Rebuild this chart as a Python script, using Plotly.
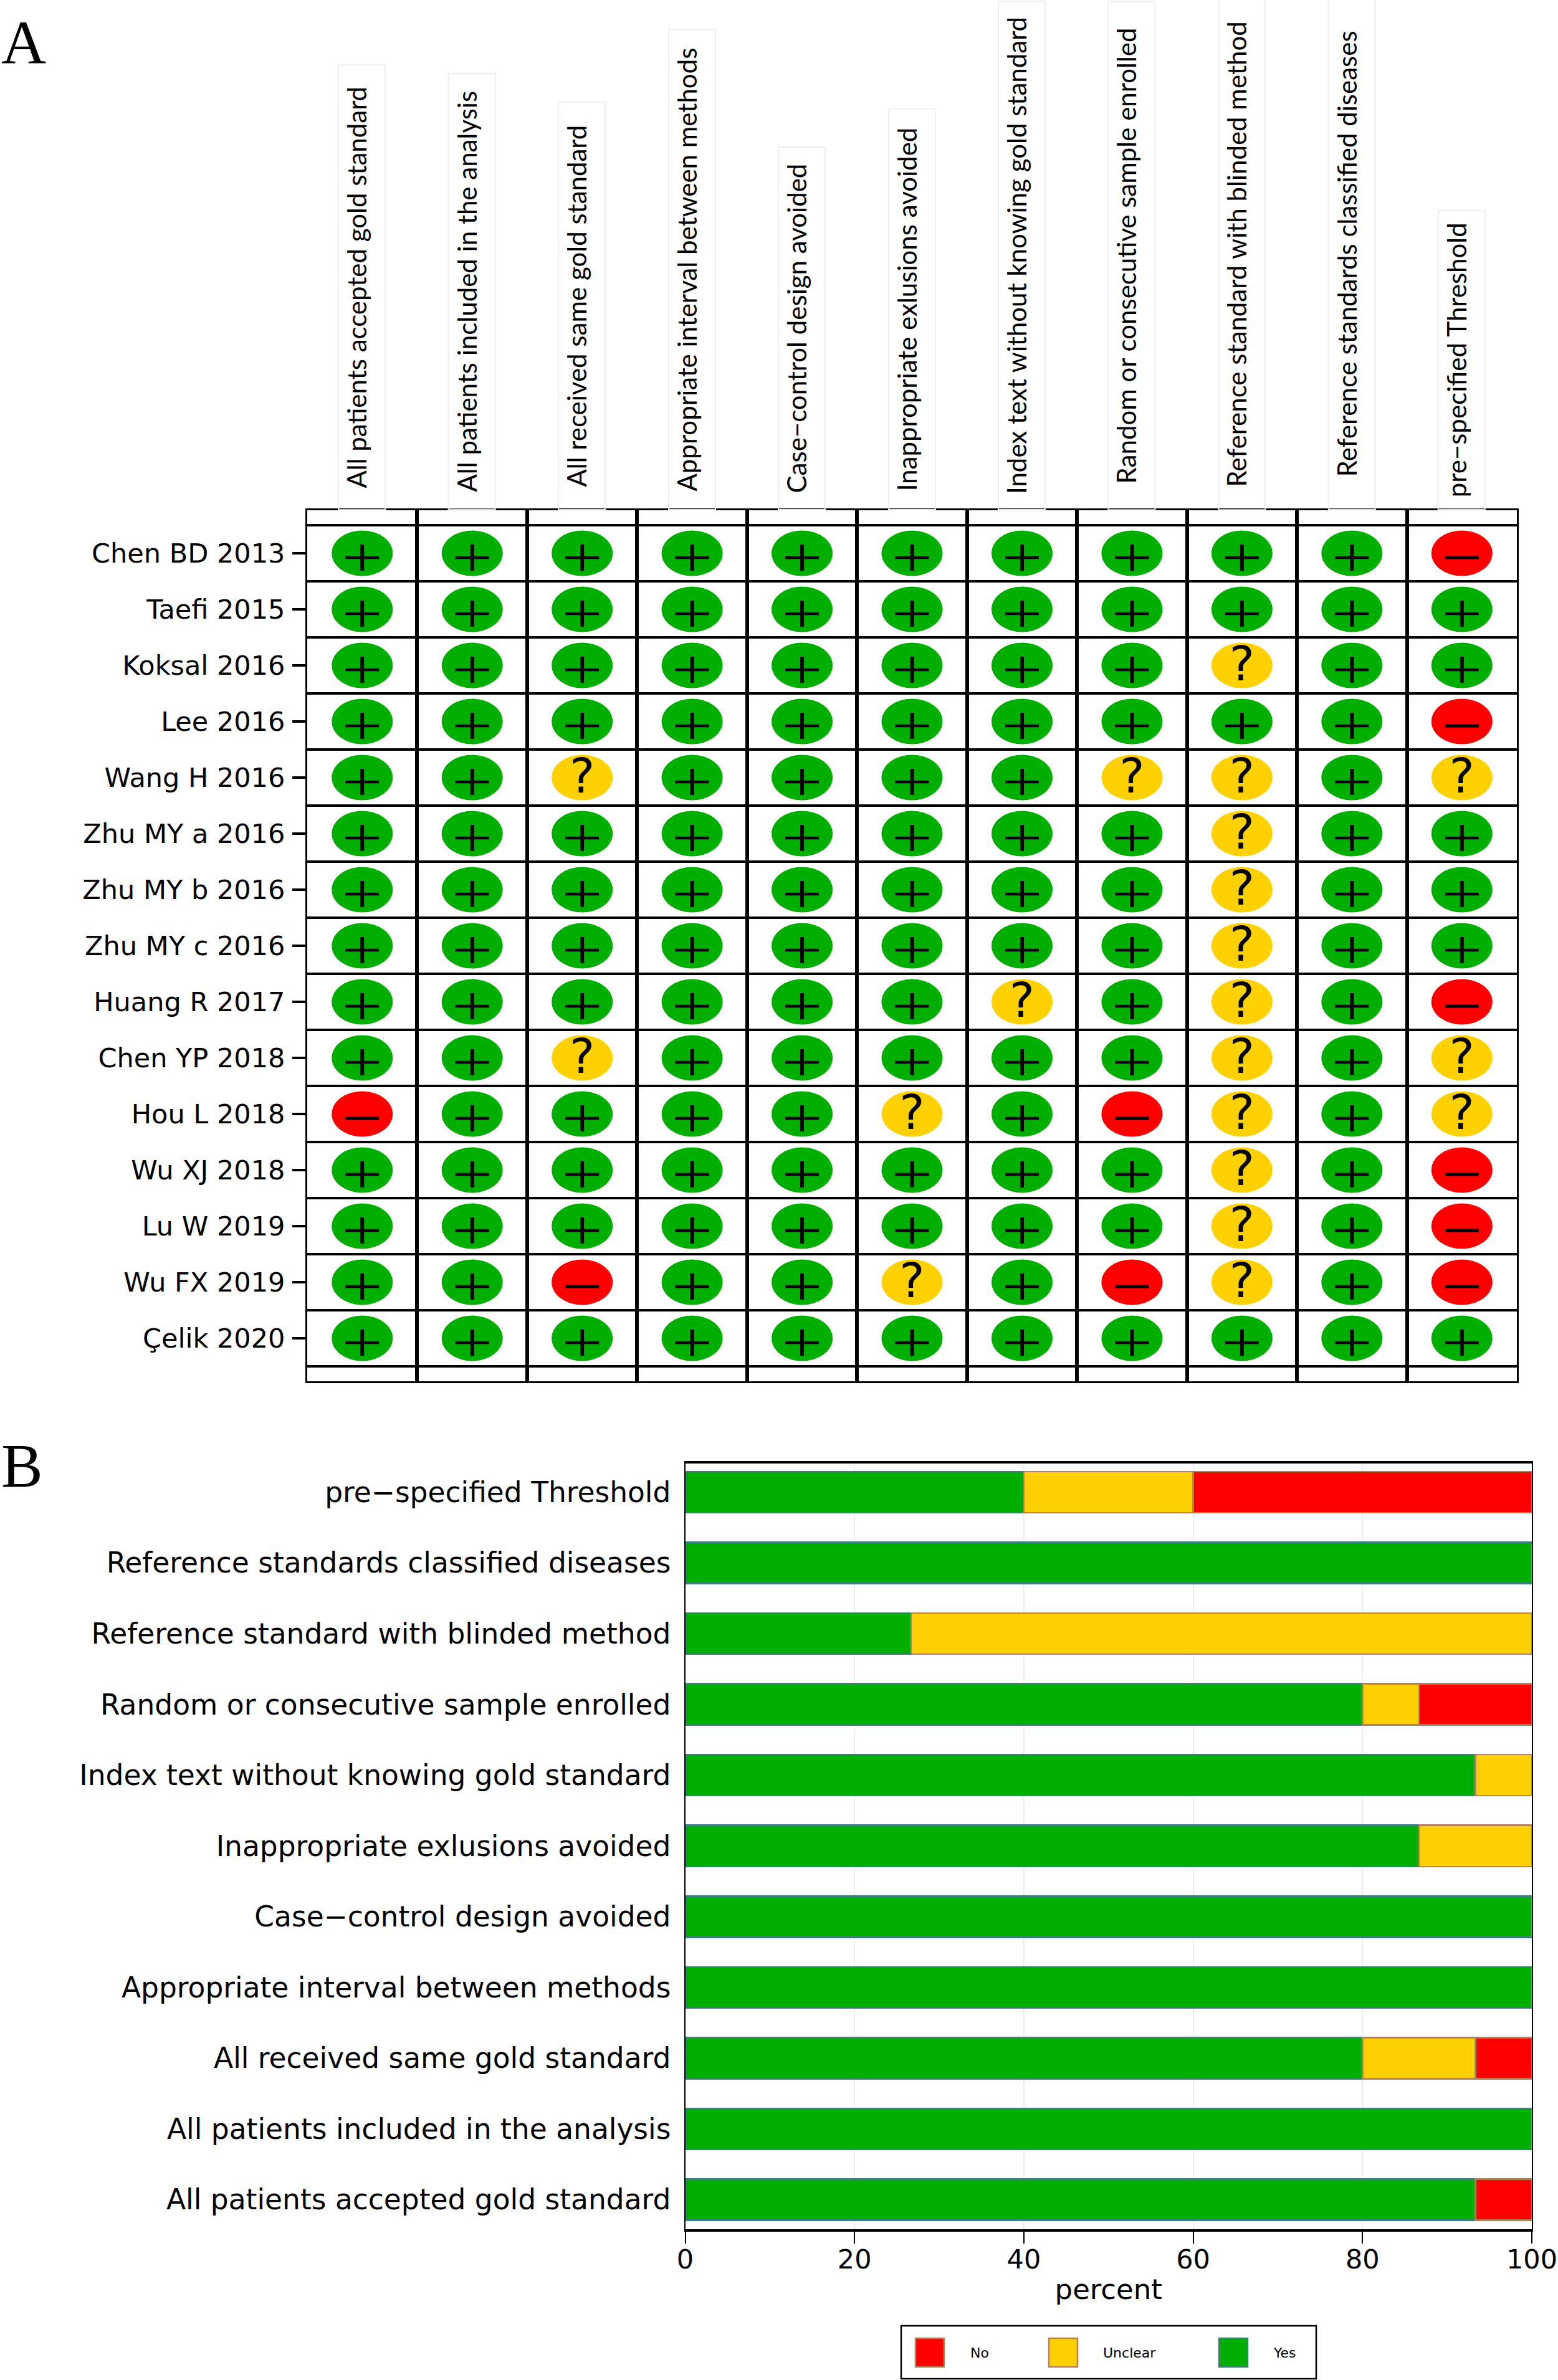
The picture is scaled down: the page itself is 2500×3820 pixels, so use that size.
import plotly.graph_objects as go

W, H = 2500, 3820

# ---------- data ----------
studies = ["Chen BD 2013", "Taefi 2015", "Koksal 2016", "Lee 2016", "Wang H 2016",
           "Zhu MY a 2016", "Zhu MY b 2016", "Zhu MY c 2016", "Huang R 2017", "Chen YP 2018",
           "Hou L 2018", "Wu XJ 2018", "Lu W 2019", "Wu FX 2019", "Çelik 2020"]
domains = ["All patients accepted gold standard", "All patients included in the analysis",
           "All received same gold standard", "Appropriate interval between methods",
           "Case\u2212control design avoided", "Inappropriate exlusions avoided",
           "Index text without knowing gold standard", "Random or consecutive sample enrolled",
           "Reference standard with blinded method", "Reference standards classified diseases",
           "pre\u2212specified Threshold"]
# one string per study, one letter per domain: Y yes, U unclear, N no
judgements = ["YYYYYYYYYYN", "YYYYYYYYYYY", "YYYYYYYYUYY", "YYYYYYYYYYN", "YYUYYYYUUYU",
              "YYYYYYYYUYY", "YYYYYYYYUYY", "YYYYYYYYUYY", "YYYYYYUYUYN", "YYUYYYYYUYU",
              "NYYYYUYNUYU", "YYYYYYYYUYN", "YYYYYYYYUYN", "YYNYYUYNUYN", "YYYYYYYYYYY"]
yes_pct = [93.33, 100, 80, 100, 100, 86.67, 93.33, 80, 26.67, 100, 40]
unclear_pct = [0, 0, 13.33, 0, 0, 13.33, 6.67, 6.67, 73.33, 0, 20]
no_pct = [6.67, 0, 6.67, 0, 0, 0, 0, 13.33, 0, 0, 40]
pct_ticks = [0, 20, 40, 60, 80, 100]
legend_names = ["No", "Unclear", "Yes"]
header_box_len = [712, 698, 652, 769, 580, 641, 814, 814, 819, 819, 478]

# ---------- style ----------
GREEN, YELLOW, RED = "#00AE00", "#FFD100", "#FF0000"
FILL = {"Y": GREEN, "U": YELLOW, "N": RED}
EDGE = {"Yes": "#3F7F80", "Unclear": "#B8805F", "No": "#A98455"}
SWATCH = {"Yes": GREEN, "Unclear": YELLOW, "No": RED}
WIDE = "DejaVu Sans"
NARROW = "Lato"

A_L, A_R, A_T, A_B = 493, 2434, 819, 2217
B_L, B_R, B_T, B_B = 1099.5, 2458, 2349, 3578
ROW_H = 90
COL_W = (A_R - A_L) / len(domains)
PAD_ROW = 24 / ROW_H
B_PITCH = 113.5


def px(x):
    return x / W


def py(y):
    return 1 - y / H


fig = go.Figure()
shapes = []

# ---------- panel A ----------
plus_hx, plus_hy, plus_vx, plus_vy, minus_x, minus_y, q_x, q_y = [], [], [], [], [], [], [], []
for r, row in enumerate(judgements):
    for c, j in enumerate(row):
        shapes.append(dict(type="circle", xref="x", yref="y", layer="below",
                           x0=c - 49 / COL_W, x1=c + 49 / COL_W,
                           y0=r - 36.5 / ROW_H, y1=r + 36.5 / ROW_H,
                           fillcolor=FILL[j], line_width=0))
        bar_y = r + 7 / ROW_H
        if j == "Y":
            plus_hx += [c - 27 / COL_W, c + 27 / COL_W, None]
            plus_hy += [bar_y, bar_y, None]
            plus_vx += [c, c, None]
            plus_vy += [bar_y - 21 / ROW_H, bar_y + 21 / ROW_H, None]
        elif j == "N":
            minus_x += [c - 27 / COL_W, c + 27 / COL_W, None]
            minus_y += [bar_y, bar_y, None]
        else:
            q_x.append(c)
            q_y.append(r + 5 / ROW_H)

for xs, ys, width, name in [(plus_hx, plus_hy, 4.5, "Yes bar"), (plus_vx, plus_vy, 6, "Yes stem"),
                            (minus_x, minus_y, 5, "No")]:
    fig.add_trace(go.Scatter(x=xs, y=ys, mode="lines", name=name, showlegend=False, hoverinfo="skip",
                             line=dict(color="black", width=width), xaxis="x", yaxis="y"))
fig.add_trace(go.Scatter(x=q_x, y=q_y, mode="text", text=["?"] * len(q_x), name="Unclear",
                         textposition="middle center", showlegend=False, hoverinfo="skip",
                         textfont=dict(family=WIDE, size=76, color="black"), xaxis="x", yaxis="y"))

# ---------- panel B ----------
b_y = list(range(len(domains)))
for name, vals, col in [("Yes", yes_pct, GREEN), ("Unclear", unclear_pct, YELLOW), ("No", no_pct, RED)]:
    fig.add_trace(go.Bar(x=vals, y=b_y, orientation="h", name=name, width=66 / B_PITCH,
                         marker=dict(color=col, line=dict(color=EDGE[name], width=2.5)),
                         showlegend=False, xaxis="x2", yaxis="y2"))

annotations = []
for c, (label, blen) in enumerate(zip(domains, header_box_len)):
    annotations.append(dict(text=label, x=c, xref="x", y=py(A_T), yref="paper",
                            xanchor="center", yanchor="bottom", textangle=-90, showarrow=False,
                            width=blen - 6, height=67, align="center", valign="top",
                            bordercolor="#EEEEEE", borderwidth=2, borderpad=3,
                            font=dict(family=NARROW, size=42, color="black")))
annotations.append(dict(text="A", x=0, xref="paper", xanchor="left", y=py(68), yref="paper",
                        yanchor="middle", showarrow=False,
                        font=dict(family="Liberation Serif", size=100, color="black")))
annotations.append(dict(text="B", x=0, xref="paper", xanchor="left", y=py(2352), yref="paper",
                        yanchor="middle", showarrow=False,
                        font=dict(family="Liberation Serif", size=100, color="black")))

# legend drawn to the reference's proportions
shapes.append(dict(type="rect", xref="paper", yref="paper", x0=px(1446), x1=px(2112), y0=py(3818), y1=py(3733),
                   line=dict(color="black", width=2.5), fillcolor="white"))
for name, sx, tx in zip(legend_names, [1469, 1683, 1956], [1555, 1768, 2041]):
    shapes.append(dict(type="rect", xref="paper", yref="paper", x0=px(sx), x1=px(sx + 46),
                       y0=py(3799), y1=py(3753), fillcolor=SWATCH[name],
                       line=dict(color=EDGE[name], width=2.5)))
    annotations.append(dict(text=name, x=px(tx), xref="paper", xanchor="left", y=py(3776), yref="paper",
                            yanchor="middle", showarrow=False,
                            font=dict(family=WIDE, size=22, color="black")))

fig.update_layout(
    width=W, height=H, autosize=False, margin=dict(l=0, r=0, t=0, b=0, autoexpand=False),
    paper_bgcolor="white", plot_bgcolor="white", barmode="stack", bargap=0.4,
    showlegend=False, shapes=shapes, annotations=annotations,
    xaxis=dict(domain=[px(A_L), px(A_R)], range=[-0.5, len(domains) - 0.5], anchor="y",
               tickvals=list(range(len(domains))), showticklabels=False, ticks="", showgrid=False, zeroline=False,
               showline=True, linecolor="black", linewidth=3, mirror=True,
               minor=dict(tickvals=[c + 0.5 for c in range(len(domains) - 1)], showgrid=True,
                          gridcolor="black", gridwidth=6, ticks="")),
    yaxis=dict(domain=[py(A_B), py(A_T)], range=[len(studies) - 0.5 + PAD_ROW, -0.5 - PAD_ROW], anchor="x",
               tickvals=list(range(len(studies))), ticktext=studies, ticks="outside", ticklen=21, tickwidth=4,
               tickcolor="black", ticklabelstandoff=3, showgrid=False, zeroline=False,
               tickfont=dict(family=WIDE, size=43, color="black"),
               showline=True, linecolor="black", linewidth=3, mirror=True,
               minor=dict(tickvals=[r - 0.5 for r in range(len(studies) + 1)], showgrid=True,
                          gridcolor="black", gridwidth=4, ticks="")),
    xaxis2=dict(domain=[px(B_L), px(B_R)], range=[0, 100], anchor="y2", tickvals=pct_ticks,
                ticks="outside", ticklen=19, tickwidth=2, tickcolor="black", ticklabelstandoff=-12,
                showgrid=True, gridcolor="#E6EDF3", gridwidth=2, zeroline=False,
                tickfont=dict(family=WIDE, size=43, color="black"),
                title=dict(text="percent", font=dict(family=WIDE, size=45, color="black"), standoff=10),
                showline=True, linecolor="black", linewidth=4, mirror=True),
    yaxis2=dict(domain=[py(B_B), py(B_T)], range=[-(B_B - 3530.5) / B_PITCH, 10 + (2395 - B_T) / B_PITCH],
                anchor="x2", tickvals=b_y, ticktext=domains, ticks="", ticklabelstandoff=12,
                showgrid=False, zeroline=False,
                tickfont=dict(family=WIDE, size=45.5, color="black"),
                showline=True, linecolor="black", linewidth=2, mirror=True),
)

fig.write_html("out.html", config={"displayModeBar": False},
               post_script="document.body.style.margin='0';")
